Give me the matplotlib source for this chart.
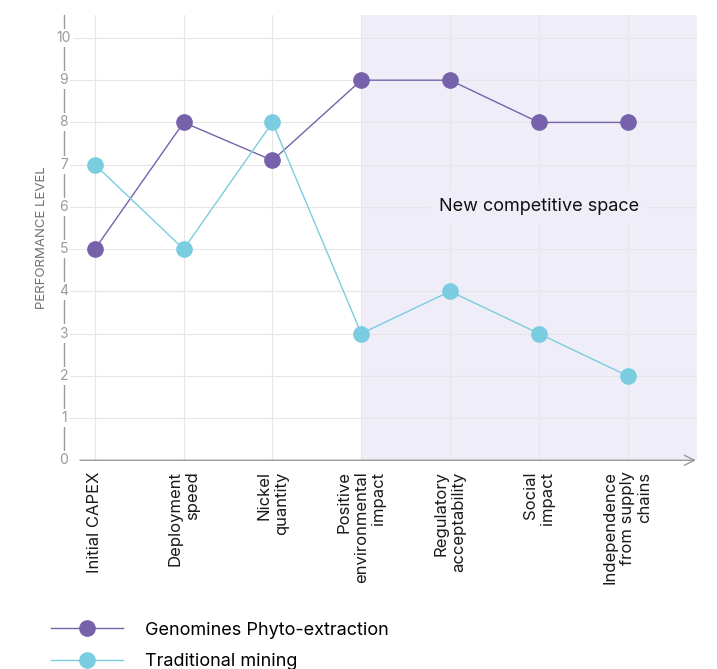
import matplotlib.pyplot as plt

# Scores per criterion for each approach
criteria = ["Initial CAPEX", "Deployment\nspeed", "Nickel\nquantity",
            "Positive\nenvironmental\nimpact", "Regulatory\nacceptability",
            "Social\nimpact", "Independence\nfrom supply\nchains"]
genomines = [5, 8, 7.1, 9, 9, 8, 8]
traditional = [7, 5, 8, 3, 4, 3, 2]
y_ticks = list(range(0, 11))

purple = "#7562ab"
cyan = "#7acde0"
shade = "#efedf7"
grey = "#9a9a9a"

plt.rcParams['font.family'] = ['Inter', 'DejaVu Sans']

fig = plt.figure(figsize=(7.17, 6.69), dpi=100)
ax = fig.add_axes([0.089, 0.312, 0.883, 0.666])

x = list(range(len(criteria)))
x_min, x_max = -0.35, 6.78
ax.set_xlim(x_min, x_max)
ax.set_ylim(0, 10.55)

# shaded area for the new competitive space
ax.axvspan(3, x_max, color=shade, zorder=0, lw=0)

# light grid
for yv in y_ticks:
    ax.axhline(yv, color="#e6e6e6", lw=0.8, zorder=1)
for xv in x:
    ax.axvline(xv, color="#e6e6e6", lw=0.8, zorder=1)

ax.plot(x, genomines, color=purple, lw=1, marker="o", ms=11, zorder=3,
        label="Genomines Phyto-extraction")
ax.plot(x, traditional, color=cyan, lw=1, marker="o", ms=11, zorder=3,
        label="Traditional mining")

for s in ax.spines.values():
    s.set_visible(False)

# y axis line, broken by the tick numbers
ax.plot([x_min, x_min], [0, 10.55], color=grey, lw=1,
        clip_on=False, zorder=2)
ax.set_yticks([])
for yv in y_ticks:
    ax.text(x_min, yv, str(yv), ha="center", va="center", fontsize=10,
            color=grey, zorder=4,
            bbox=dict(facecolor="white", edgecolor="none", pad=1.5))

# x axis with arrow head
ax.annotate("", xy=(x_max + 0.02, 0), xytext=(x_min + 0.15, 0),
            arrowprops=dict(arrowstyle="->", color=grey, lw=1,
                            mutation_scale=18),
            annotation_clip=False, zorder=2)

ax.set_xticks(x)
ax.set_xticklabels(criteria, rotation=90, ha="center", va="top",
                   multialignment="right", fontsize=12, color="#1a1a1a")
ax.tick_params(axis="x", length=0, pad=8)

ax.set_ylabel("PERFORMANCE LEVEL", fontsize=9.5, color="#707070")
ax.yaxis.set_label_coords(-0.025, 0.5)

ax.text(5, 6, "New competitive space", ha="center", va="center",
        fontsize=13, color="#111111", zorder=4,
        bbox=dict(facecolor=shade, edgecolor="none", pad=6))

fig.legend(loc="upper left", bbox_to_anchor=(0.071, 0.071), frameon=False,
           fontsize=13, handlelength=4, handletextpad=1.2,
           labelspacing=0.82, borderpad=0, borderaxespad=0)

fig.savefig("out.png", dpi=100)
